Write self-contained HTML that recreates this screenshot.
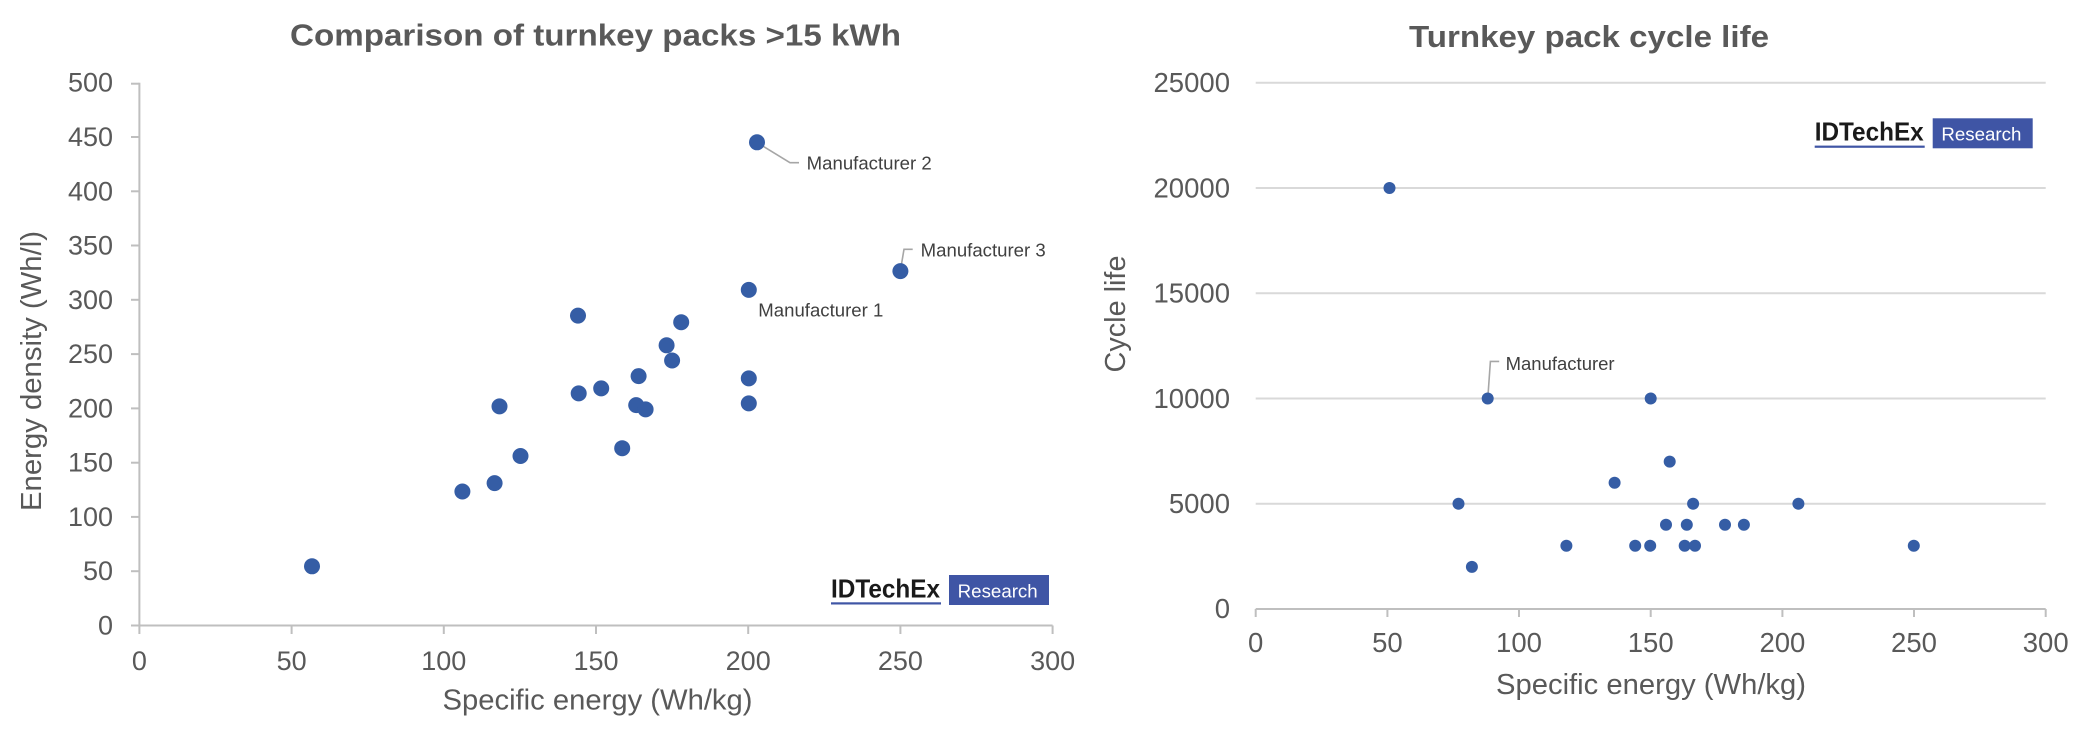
<!DOCTYPE html>
<html>
<head>
<meta charset="utf-8">
<style>
html,body{margin:0;padding:0;background:#fff;}
svg{display:block;}
text{font-family:"Liberation Sans",Arial,sans-serif;}
</style>
</head>
<body>
<svg width="2094" height="742" viewBox="0 0 2094 742" xmlns="http://www.w3.org/2000/svg">
<rect width="2094" height="742" fill="#fff"/>

<!-- ================= LEFT CHART ================= -->
<text x="595.5" y="45.5" font-size="31" font-weight="bold" fill="#595959" text-anchor="middle" textLength="611" lengthAdjust="spacingAndGlyphs">Comparison of turnkey packs &gt;15 kWh</text>

<!-- axes -->
<g stroke="#bfbfbf" stroke-width="2" fill="none">
  <line x1="139.4" y1="82.7" x2="139.4" y2="626.5"/>
  <line x1="139.4" y1="625.5" x2="1052.6" y2="625.5"/>
  <line x1="131" y1="625.5" x2="139.4" y2="625.5"/>
  <line x1="131" y1="571.2" x2="139.4" y2="571.2"/>
  <line x1="131" y1="516.9" x2="139.4" y2="516.9"/>
  <line x1="131" y1="462.7" x2="139.4" y2="462.7"/>
  <line x1="131" y1="408.4" x2="139.4" y2="408.4"/>
  <line x1="131" y1="354.1" x2="139.4" y2="354.1"/>
  <line x1="131" y1="299.8" x2="139.4" y2="299.8"/>
  <line x1="131" y1="245.5" x2="139.4" y2="245.5"/>
  <line x1="131" y1="191.3" x2="139.4" y2="191.3"/>
  <line x1="131" y1="137.0" x2="139.4" y2="137.0"/>
  <line x1="131" y1="83.7" x2="139.4" y2="83.7"/>
  <line x1="139.4" y1="625.5" x2="139.4" y2="634"/>
  <line x1="291.6" y1="625.5" x2="291.6" y2="634"/>
  <line x1="443.8" y1="625.5" x2="443.8" y2="634"/>
  <line x1="596.0" y1="625.5" x2="596.0" y2="634"/>
  <line x1="748.2" y1="625.5" x2="748.2" y2="634"/>
  <line x1="900.4" y1="625.5" x2="900.4" y2="634"/>
  <line x1="1052.6" y1="625.5" x2="1052.6" y2="634"/>
</g>

<g font-size="27" fill="#595959" text-anchor="end">
  <text x="113" y="634.5">0</text>
  <text x="113" y="580.2">50</text>
  <text x="113" y="525.9">100</text>
  <text x="113" y="471.7">150</text>
  <text x="113" y="417.4">200</text>
  <text x="113" y="363.1">250</text>
  <text x="113" y="308.8">300</text>
  <text x="113" y="254.5">350</text>
  <text x="113" y="200.3">400</text>
  <text x="113" y="146.0">450</text>
  <text x="113" y="91.7">500</text>
</g>
<g font-size="27" fill="#595959" text-anchor="middle">
  <text x="139.4" y="670">0</text>
  <text x="291.6" y="670">50</text>
  <text x="443.8" y="670">100</text>
  <text x="596.0" y="670">150</text>
  <text x="748.2" y="670">200</text>
  <text x="900.4" y="670">250</text>
  <text x="1052.6" y="670">300</text>
</g>

<text x="597.5" y="709.5" font-size="29" fill="#595959" text-anchor="middle" textLength="310" lengthAdjust="spacingAndGlyphs">Specific energy (Wh/kg)</text>
<text transform="translate(41,371) rotate(-90)" x="0" y="0" font-size="29" fill="#595959" text-anchor="middle" textLength="280" lengthAdjust="spacingAndGlyphs">Energy density (Wh/l)</text>

<g stroke="#a6a6a6" stroke-width="1.6" fill="none">
  <polyline points="757,142.5 790,162.7 799,162.7"/>
  <polyline points="900.5,270 904,249.3 912.7,249.3"/>
</g>

<g fill="#355da5">
  <circle cx="312.0" cy="566.3" r="8"/>
  <circle cx="462.4" cy="491.5" r="8"/>
  <circle cx="494.6" cy="483.1" r="8"/>
  <circle cx="499.5" cy="406.4" r="8"/>
  <circle cx="520.5" cy="456.0" r="8"/>
  <circle cx="578.0" cy="315.6" r="8"/>
  <circle cx="578.7" cy="393.4" r="8"/>
  <circle cx="601.2" cy="388.4" r="8"/>
  <circle cx="622.2" cy="448.2" r="8"/>
  <circle cx="636.2" cy="405.1" r="8"/>
  <circle cx="645.6" cy="409.4" r="8"/>
  <circle cx="638.6" cy="376.1" r="8"/>
  <circle cx="666.6" cy="345.3" r="8"/>
  <circle cx="672.1" cy="360.5" r="8"/>
  <circle cx="681.2" cy="322.2" r="8"/>
  <circle cx="748.8" cy="289.9" r="8"/>
  <circle cx="748.8" cy="378.4" r="8"/>
  <circle cx="748.8" cy="403.4" r="8"/>
  <circle cx="757.0" cy="142.3" r="8"/>
  <circle cx="900.4" cy="271.1" r="8"/>
</g>

<g font-size="18.5" fill="#404040">
  <text x="806.7" y="169.5" textLength="125" lengthAdjust="spacingAndGlyphs">Manufacturer 2</text>
  <text x="920.7" y="256.5" textLength="125" lengthAdjust="spacingAndGlyphs">Manufacturer 3</text>
  <text x="758.3" y="316.5" textLength="125" lengthAdjust="spacingAndGlyphs">Manufacturer 1</text>
</g>

<g>
  <text x="831" y="597.3" font-size="26" font-weight="bold" fill="#1a1a1a" textLength="109" lengthAdjust="spacingAndGlyphs">IDTechEx</text>
  <rect x="831" y="602.3" width="110" height="2.2" fill="#3f55a5"/>
  <rect x="949" y="575" width="100" height="30" fill="#3f55a5"/>
  <text x="957.7" y="597.3" font-size="18.5" fill="#ffffff" textLength="80" lengthAdjust="spacingAndGlyphs">Research</text>
</g>

<!-- ================= RIGHT CHART ================= -->
<text x="1589" y="47" font-size="31" font-weight="bold" fill="#595959" text-anchor="middle" textLength="360" lengthAdjust="spacingAndGlyphs">Turnkey pack cycle life</text>

<g stroke="#d9d9d9" stroke-width="2">
  <line x1="1255.7" y1="503.7" x2="2045.7" y2="503.7"/>
  <line x1="1255.7" y1="398.5" x2="2045.7" y2="398.5"/>
  <line x1="1255.7" y1="293.2" x2="2045.7" y2="293.2"/>
  <line x1="1255.7" y1="188.0" x2="2045.7" y2="188.0"/>
  <line x1="1255.7" y1="82.7" x2="2045.7" y2="82.7"/>
</g>
<g stroke="#bfbfbf" stroke-width="2" fill="none">
  <line x1="1255.7" y1="609" x2="2045.7" y2="609"/>
  <line x1="1255.7" y1="609" x2="1255.7" y2="617"/>
  <line x1="1387.4" y1="609" x2="1387.4" y2="617"/>
  <line x1="1519.0" y1="609" x2="1519.0" y2="617"/>
  <line x1="1650.7" y1="609" x2="1650.7" y2="617"/>
  <line x1="1782.4" y1="609" x2="1782.4" y2="617"/>
  <line x1="1914.0" y1="609" x2="1914.0" y2="617"/>
  <line x1="2045.7" y1="609" x2="2045.7" y2="617"/>
</g>

<g font-size="27.5" fill="#595959" text-anchor="end">
  <text x="1230" y="618">0</text>
  <text x="1230" y="513">5000</text>
  <text x="1230" y="407.8">10000</text>
  <text x="1230" y="302.5">15000</text>
  <text x="1230" y="197.3">20000</text>
  <text x="1230" y="92">25000</text>
</g>
<g font-size="27.5" fill="#595959" text-anchor="middle">
  <text x="1255.7" y="652">0</text>
  <text x="1387.4" y="652">50</text>
  <text x="1519.0" y="652">100</text>
  <text x="1650.7" y="652">150</text>
  <text x="1782.4" y="652">200</text>
  <text x="1914.0" y="652">250</text>
  <text x="2045.7" y="652">300</text>
</g>

<text x="1651" y="694" font-size="29" fill="#595959" text-anchor="middle" textLength="310" lengthAdjust="spacingAndGlyphs">Specific energy (Wh/kg)</text>
<text transform="translate(1125,314) rotate(-90)" x="0" y="0" font-size="29" fill="#595959" text-anchor="middle" textLength="117" lengthAdjust="spacingAndGlyphs">Cycle life</text>

<polyline points="1487.8,398 1490.4,361.4 1499.2,361.4" stroke="#a6a6a6" stroke-width="1.6" fill="none"/>

<g fill="#355da5">
  <circle cx="1389.5" cy="188.0" r="6"/>
  <circle cx="1487.7" cy="398.5" r="6"/>
  <circle cx="1650.7" cy="398.5" r="6"/>
  <circle cx="1669.7" cy="461.6" r="6"/>
  <circle cx="1614.6" cy="482.7" r="6"/>
  <circle cx="1458.5" cy="503.7" r="6"/>
  <circle cx="1693.1" cy="503.7" r="6"/>
  <circle cx="1798.4" cy="503.7" r="6"/>
  <circle cx="1666.0" cy="524.8" r="6"/>
  <circle cx="1686.8" cy="524.8" r="6"/>
  <circle cx="1725.0" cy="524.8" r="6"/>
  <circle cx="1743.9" cy="524.8" r="6"/>
  <circle cx="1566.4" cy="545.8" r="6"/>
  <circle cx="1635.2" cy="545.8" r="6"/>
  <circle cx="1650.2" cy="545.8" r="6"/>
  <circle cx="1684.7" cy="545.8" r="6"/>
  <circle cx="1695.0" cy="545.8" r="6"/>
  <circle cx="1913.8" cy="545.8" r="6"/>
  <circle cx="1471.9" cy="566.9" r="6"/>
</g>

<text x="1505.6" y="370" font-size="18.5" fill="#404040" textLength="109" lengthAdjust="spacingAndGlyphs">Manufacturer</text>

<g transform="translate(983.7,-456.7)">
  <text x="831" y="597.3" font-size="26" font-weight="bold" fill="#1a1a1a" textLength="109" lengthAdjust="spacingAndGlyphs">IDTechEx</text>
  <rect x="831" y="602.3" width="110" height="2.2" fill="#3f55a5"/>
  <rect x="949" y="575" width="100" height="30" fill="#3f55a5"/>
  <text x="957.7" y="597.3" font-size="18.5" fill="#ffffff" textLength="80" lengthAdjust="spacingAndGlyphs">Research</text>
</g>
</svg>
</body>
</html>
